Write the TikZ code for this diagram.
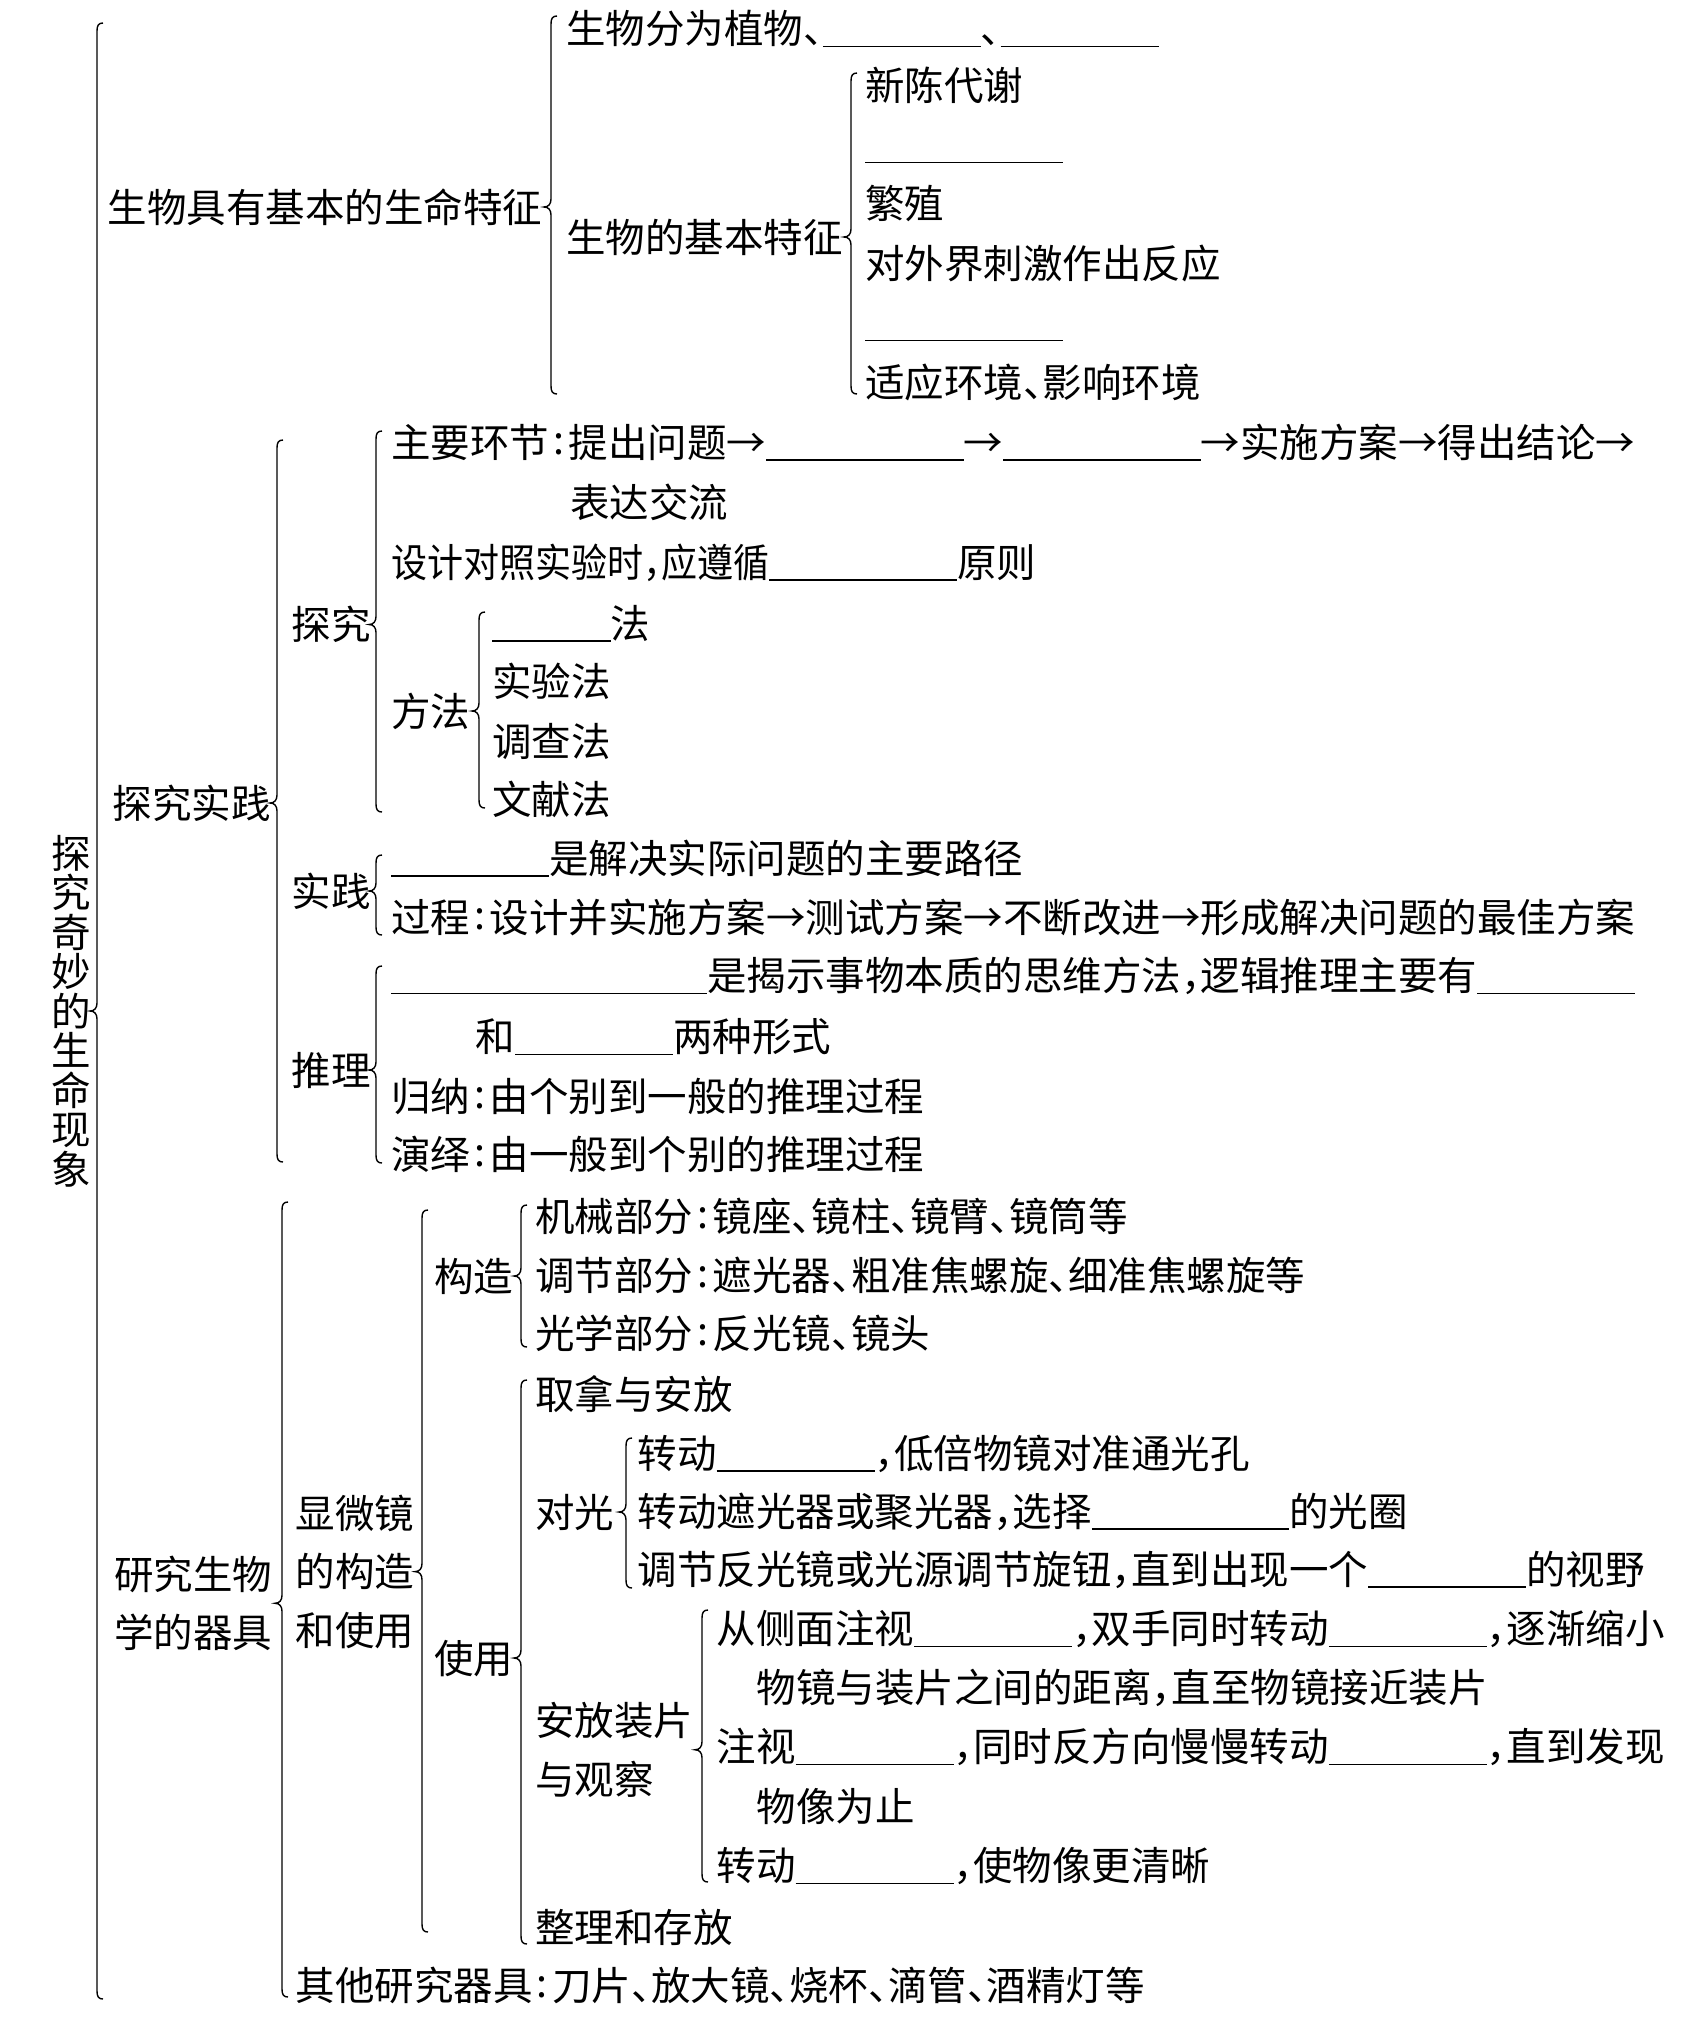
\documentclass[tikz,border=0pt]{standalone}
\usepackage{fontspec}
\usepackage{graphicx}
\setmainfont{Noto Sans CJK SC}
\usetikzlibrary{calc}
\newcommand\blk[1]{\rule[-0.09em]{#1em}{1.6pt}}
\newcommand\dun{\makebox[0.5em][l]{、}}
\newcommand\cma{\makebox[0.5em][l]{，}}
\newcommand\cln{\makebox[0.5em][c]{\raisebox{0.06em}{:}}}
\newcommand\arr{\makebox[1em][c]{→}}
\newcommand\brc[4]{%
  \path (#1,0) coordinate (bq);
  \path (bq |- #4) coordinate (bm);
  \draw[brcline] (#1+6,#2) .. controls (#1+1.5,#2) and (#1,#2+2.5) .. (#1,#2+8)
    -- ([shift={(0,-8)}]bm) .. controls ([shift={(0,-3)}]bm) and ([shift={(-2.5,0)}]bm) .. ([shift={(-7,0)}]bm)
    .. controls ([shift={(-2.5,0)}]bm) and ([shift={(0,3)}]bm) .. ([shift={(0,8)}]bm)
    -- (#1,#3-8) .. controls (#1,#3-2.5) and (#1+1.5,#3) .. (#1+6,#3);
}
\begin{document}
\begin{tikzpicture}[x=1pt,y=-1pt,
  t/.style={anchor=west,inner sep=0pt,font=\fontsize{39.5}{47}\selectfont,text height=34.8pt,text depth=4.7pt},
  brcline/.style={line width=1.4pt,black}]
\fill[white] (0,0) rectangle (1705,2031);
\useasboundingbox (0,0) rectangle (1705,2031);

\node[inner sep=0pt,align=center,font=\fontsize{39.5}{39.5}\selectfont] (title) at (71,1011)
  {探\\究\\奇\\妙\\的\\生\\命\\现\\象};

% part A
\node[t] (A) at (107.5,207) {生物具有基本的生命特征};
\node[t] (A1) at (566,28.5) {生物分为植物\dun\blk{4}\dun\blk{4}};
\node[t] (A2) at (566,237) {生物的基本特征};
\node[t] (a1) at (865,85.5) {新陈代谢};
\node[t] (a2) at (865,144.5) {\blk{5}};
\node[t] (a3) at (865,203.4) {繁殖};
\node[t] (a4) at (865,263) {对外界刺激作出反应};
\node[t] (a5) at (865,322.6) {\blk{5}};
\node[t] (a6) at (865,382) {适应环境\dun 影响环境};

% part B
\node[t] (B) at (112.7,803) {探究实践};
\node[t] (B1) at (291.5,624.5) {探究};
\node[t] (b1) at (391,442) {主要环节\cln 提出问题\arr\blk{5}\arr\blk{5}\arr 实施方案\arr 得出结论\arr};
\node[t] (b2) at (570,502.7) {表达交流};
\node[t] (b3) at (391,562) {\scalebox{0.912}[1]{设计对照实验时\cma 应遵循}\blk{4.75}原则};
\node[t] (M) at (391,711) {方法};
\node[t] (m1) at (492,623) {\blk{3}法};
\node[t] (m2) at (492,681.5) {实验法};
\node[t] (m3) at (492,741) {调查法};
\node[t] (m4) at (492,799) {文献法};
\node[t] (B2) at (291.5,891) {实践};
\node[t] (p1) at (391,858) {\blk{4}是解决实际问题的主要路径};
\node[t] (p2) at (391,917) {过程\cln 设计并实施方案\arr 测试方案\arr 不断改进\arr 形成解决问题的最佳方案};
\node[t] (B3) at (291.5,1070) {推理};
\node[t] (r1) at (391,975.6) {\blk{8}是揭示事物本质的思维方法\cma 逻辑推理主要有\blk{4}};
\node[t] (r2) at (475.5,1036.5) {和\blk{4}两种形式};
\node[t] (r3) at (391,1096) {归纳\cln 由个别到一般的推理过程};
\node[t] (r4) at (391,1154) {演绎\cln 由一般到个别的推理过程};

% part C
\node[t] (C) at (114,1574) {研究生物};
\node[t] (Cb) at (114,1632.5) {学的器具};
\coordinate (Cm) at ($(C)!0.5!(Cb)$);
\node[t] (D1) at (295.4,1513) {显微镜};
\node[t] (D2) at (295.4,1571.6) {的构造};
\node[t] (D3) at (295.4,1630) {和使用};
\node[t] (G) at (434,1276) {构造};
\node[t] (g1) at (535,1216) {机械部分\cln 镜座\dun 镜柱\dun 镜臂\dun 镜筒等};
\node[t] (g2) at (535,1275) {调节部分\cln 遮光器\dun 粗准焦螺旋\dun 细准焦螺旋等};
\node[t] (g3) at (535,1333) {光学部分\cln 反光镜\dun 镜头};
\node[t] (U) at (434,1658) {使用};
\node[t] (u1) at (535,1394) {取拿与安放};
\node[t] (L) at (535,1512) {对光};
\node[t] (l1) at (637.5,1453) {转动\blk{4}\cma 低倍物镜对准通光孔};
\node[t] (l2) at (637.5,1511) {转动遮光器或聚光器\cma 选择\blk{5}的光圈};
\node[t] (l3) at (637.5,1569) {调节反光镜或光源调节旋钮\cma 直到出现一个\blk{4}的视野};
\node[t] (S1) at (535,1720.5) {安放装片};
\node[t] (S2) at (535,1779) {与观察};
\coordinate (Sm) at ($(S1)!0.5!(S2)$);
\node[t] (s1) at (716.5,1628.6) {从侧面注视\blk{4}\cma 双手同时转动\blk{4}\cma 逐渐缩小};
\node[t] (s2) at (756.6,1687) {物镜与装片之间的距离\cma 直至物镜接近装片};
\node[t] (s3) at (716.5,1746.5) {注视\blk{4}\cma 同时反方向慢慢转动\blk{4}\cma 直到发现};
\node[t] (s4) at (756.6,1806) {物像为止};
\node[t] (s5) at (716.5,1865.6) {转动\blk{4}\cma 使物像更清晰};
\node[t] (u3) at (535,1927) {整理和存放};
\node[t] (O) at (295.4,1985) {其他研究器具\cln 刀片\dun 放大镜\dun 烧杯\dun 滴管\dun 酒精灯等};

% braces
\brc{97}{23}{1999}{title}
\brc{551}{16}{394}{A}
\brc{851}{73}{394}{A2}
\brc{277}{440}{1162}{B}
\brc{376}{431}{812}{B1}
\brc{479}{612}{808}{M}
\brc{376}{855}{935}{B2}
\brc{376}{966}{1163}{B3}
\brc{282}{1202}{1997}{Cm}
\brc{422}{1210}{1932}{D2}
\brc{521}{1205}{1347}{G}
\brc{521}{1380}{1944}{U}
\brc{626}{1438}{1588}{L}
\brc{702}{1610}{1882}{Sm}
\end{tikzpicture}
\end{document}
